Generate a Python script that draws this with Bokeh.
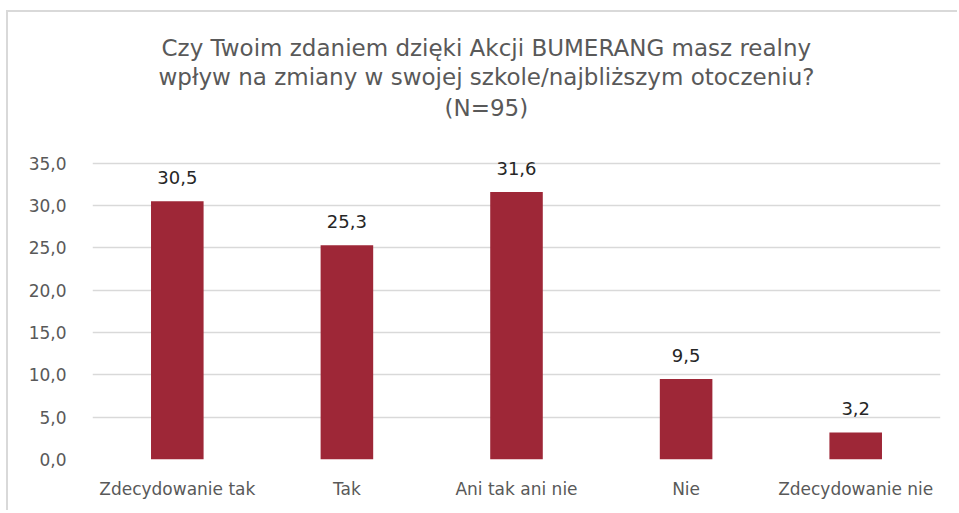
from bokeh.plotting import figure
from bokeh.models import ColumnDataSource, LabelSet, Title, FixedTicker, Range1d, FactorRange
from bokeh.core.properties import value
from bokeh.embed import file_html
from bokeh.resources import INLINE

categories = ["Zdecydowanie tak", "Tak", "Ani tak ani nie", "Nie", "Zdecydowanie nie"]
values = [30.5, 25.3, 31.6, 9.5, 3.2]
value_labels = ["30,5", "25,3", "31,6", "9,5", "3,2"]
y_ticks = [0, 5, 10, 15, 20, 25, 30, 35]
y_tick_labels = ["0,0", "5,0", "10,0", "15,0", "20,0", "25,0", "30,0", "35,0"]
title_lines = [
    "Czy Twoim zdaniem dzięki Akcji BUMERANG masz realny",
    "wpływ na zmiany w swojej szkole/najbliższym otoczeniu?",
    "(N=95)",
]
# left offsets (px from plot-area left) so that each title line is centred on the chart box
title_offsets = [69, 66, 352]
title_standoffs = [0, 2, 4]

FONT = "DejaVu Sans"
GREY = "#595959"

src = ColumnDataSource(dict(cat=categories, val=values, lab=value_labels))

# y range a little above the top tick so value labels are not clipped
p = figure(width=951, height=500, x_range=FactorRange(*categories, range_padding=0),
           y_range=Range1d(0, 36.5), output_backend="svg", toolbar_location=None,
           min_border_left=84, min_border_right=19, min_border_top=138, min_border_bottom=53)
p.outline_line_color = None
p.background_fill_color = "white"
p.border_fill_color = "white"

p.vbar(x="cat", top="val", width=0.31, source=src, fill_color="#9E2737", line_color=None)

p.add_layout(LabelSet(x="cat", y="val", text="lab", source=src, y_offset=17,
                      text_align="center", text_baseline="bottom",
                      text_font=value(FONT), text_font_size=value("18px"),
                      text_color=value("#262626")))

p.xgrid.grid_line_color = None
p.ygrid.grid_line_color = "#d9d9d9"
p.ygrid.grid_line_width = 1.5

p.yaxis.ticker = FixedTicker(ticks=y_ticks)
p.yaxis.major_label_overrides = {t: l for t, l in zip(y_ticks, y_tick_labels)}
for ax in (p.xaxis[0], p.yaxis[0]):
    ax.axis_line_color = None
    ax.major_tick_line_color = None
    ax.minor_tick_line_color = None
    ax.major_label_text_font = FONT
    ax.major_label_text_color = GREY
p.yaxis.major_label_text_font_size = "17px"
p.yaxis.major_label_standoff = 20
p.xaxis.major_label_text_font_size = "17px"
p.xaxis.major_label_standoff = 13

# spacer between the title block and the plot area
p.add_layout(Title(text=" ", text_font_size="10px", standoff=15), "above")
# title lines, innermost first
for t, off, so in reversed(list(zip(title_lines, title_offsets, title_standoffs))):
    p.add_layout(Title(text=t, align="left", offset=off, text_font=FONT,
                       text_font_size="23px", text_font_style="normal",
                       text_color=GREY, standoff=so), "above")

p.styles = {"margin-left": "6px", "margin-top": "10px",
            "border-left": "2px solid #d9d9d9", "border-top": "2px solid #d9d9d9"}

open("out.html", "w").write(file_html(p, INLINE))
